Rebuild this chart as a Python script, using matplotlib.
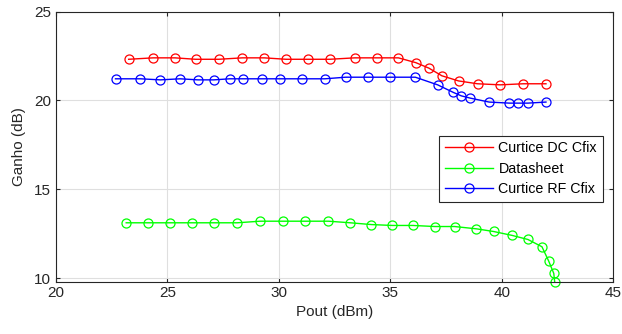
import matplotlib
matplotlib.use("Agg")
import matplotlib.pyplot as plt

plt.rcParams['font.family'] = ['Liberation Sans', 'DejaVu Sans']

# Curtice DC Cfix
pout_dc = [23.26, 24.36, 25.34, 26.26, 27.30, 28.36, 29.34, 30.32, 31.30, 32.28,
           33.40, 34.38, 35.36, 36.14, 36.73, 37.31, 38.06, 38.91, 39.93, 40.96, 41.98]
ganho_dc = [22.32, 22.40, 22.40, 22.32, 22.32, 22.40, 22.40, 22.32, 22.32, 22.32,
            22.40, 22.40, 22.40, 22.13, 21.82, 21.39, 21.10, 20.94, 20.88, 20.94, 20.94]

# Datasheet
pout_ds = [23.15, 24.13, 25.11, 26.09, 27.08, 28.13, 29.16, 30.18, 31.17, 32.22,
           33.20, 34.15, 35.09, 36.01, 36.99, 37.88, 38.86, 39.63, 40.46, 41.17,
           41.80, 42.10, 42.33, 42.37]
ganho_ds = [13.11, 13.11, 13.11, 13.11, 13.11, 13.11, 13.20, 13.20, 13.20, 13.20,
            13.11, 13.01, 12.96, 12.96, 12.90, 12.90, 12.77, 12.62, 12.40, 12.17,
            11.76, 10.96, 10.26, 9.80]

# Curtice RF Cfix
pout_rf = [22.67, 23.79, 24.68, 25.57, 26.37, 27.08, 27.79, 28.40, 29.22, 30.05,
           31.03, 32.06, 32.99, 34.00, 34.98, 36.12, 37.12, 37.83, 38.18, 38.59,
           39.43, 40.34, 40.73, 41.17, 41.98]
ganho_rf = [21.22, 21.22, 21.16, 21.22, 21.16, 21.16, 21.22, 21.22, 21.22, 21.22,
            21.22, 21.22, 21.31, 21.31, 21.31, 21.31, 20.88, 20.45, 20.26, 20.13,
            19.91, 19.85, 19.85, 19.85, 19.91]

fig = plt.figure(figsize=(6.22, 3.34), dpi=100)
ax = fig.add_axes([0.090, 0.157, 0.896, 0.808])

estilo = dict(marker='o', markersize=6.5, markerfacecolor='none',
              linewidth=1.0, markeredgewidth=0.9, clip_on=False)
ax.plot(pout_dc, ganho_dc, color=(1, 0, 0), label='Curtice DC Cfix', **estilo)
ax.plot(pout_ds, ganho_ds, color=(0, 1, 0), label='Datasheet', **estilo)
ax.plot(pout_rf, ganho_rf, color=(0, 0, 1), label='Curtice RF Cfix', **estilo)

ax.set_xlim(20, 45)
ax.set_ylim(9.8, 25)
ax.set_xticks([20, 25, 30, 35, 40, 45])
ax.set_yticks([10, 15, 20, 25])
ax.grid(True, color='#dfdfdf', linewidth=0.8)
ax.set_axisbelow(True)
for s in ax.spines.values():
    s.set_color('#262626')
    s.set_linewidth(0.8)
ax.tick_params(direction='in', length=3, width=0.8, top=True, right=True,
               colors='#262626', labelsize=11, labelcolor='#262626')
ax.set_xlabel('Pout (dBm)', fontsize=11, color='#262626', labelpad=3)
ax.set_ylabel('Ganho (dB)', fontsize=11, color='#262626', labelpad=6)

leg = ax.legend(loc='upper right', bbox_to_anchor=(0.981, 0.541), fontsize=10.3,
                handlelength=3.4, borderpad=0.4, labelspacing=0.45,
                handletextpad=0.35, borderaxespad=0, fancybox=False, framealpha=1)
leg.get_frame().set_edgecolor('#262626')
leg.get_frame().set_linewidth(0.8)

fig.savefig('out.png', dpi=100)
